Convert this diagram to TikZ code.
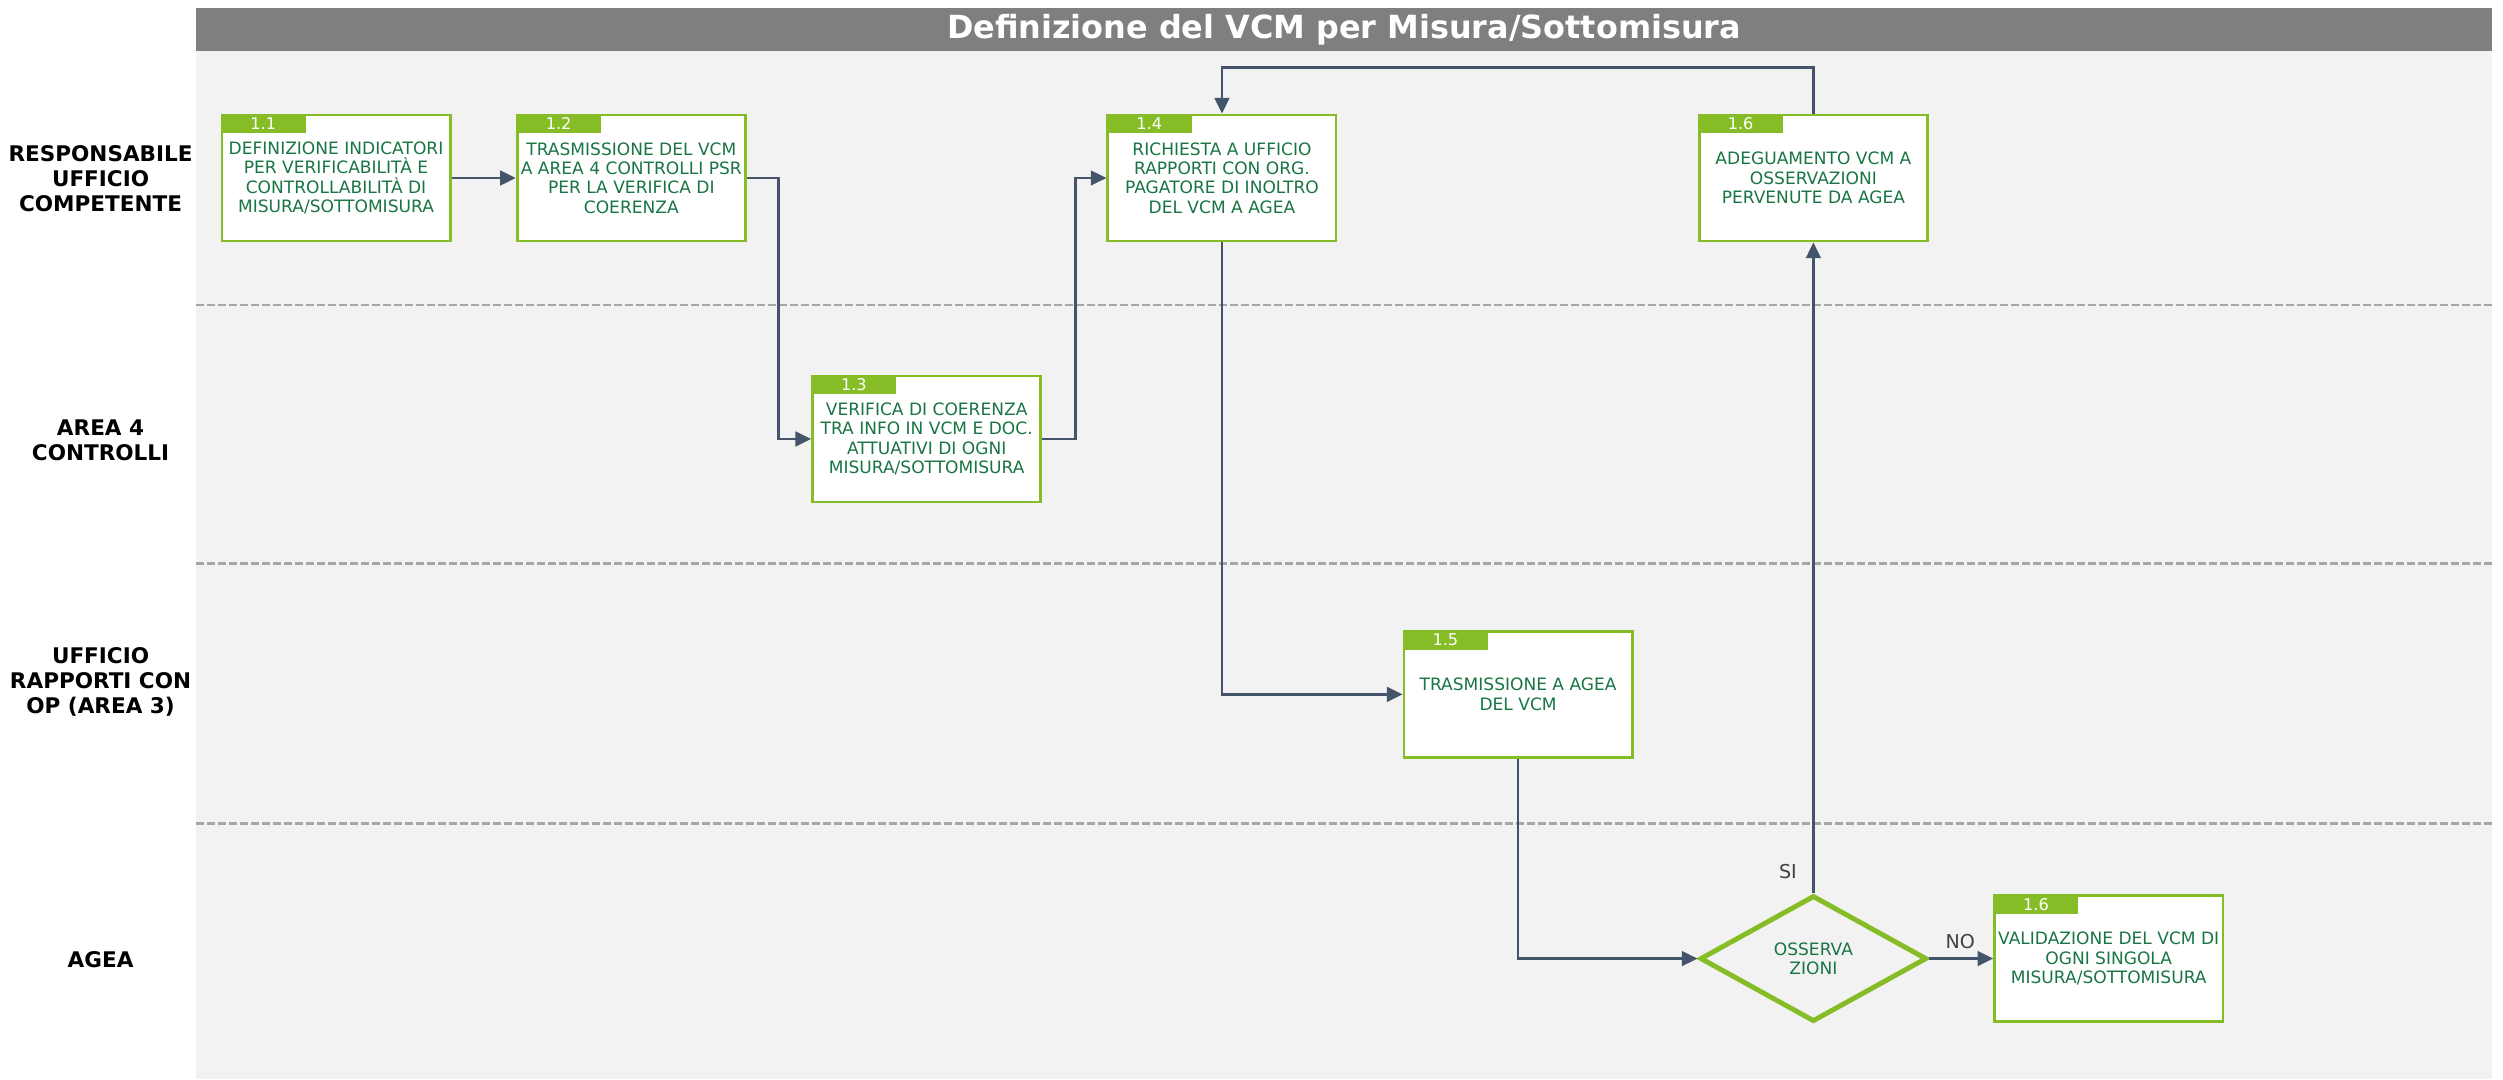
\documentclass[tikz,border=0pt]{standalone}
\usepackage{fontspec}
\setmainfont{DejaVu Sans}
\usetikzlibrary{shapes.geometric,arrows.meta}

\definecolor{bargray}{HTML}{7F7F7F}
\definecolor{lanebg}{HTML}{F2F2F2}
\definecolor{lanedash}{HTML}{A6A6A6}
\definecolor{stepgreen}{HTML}{86BC25}
\definecolor{textgreen}{HTML}{1A7544}
\definecolor{flowline}{HTML}{44546A}
\definecolor{choicetext}{HTML}{404040}

\tikzset{
  stepbox/.style={draw=stepgreen, line width=1.2pt, fill=white, minimum width=35.75mm,
    minimum height=19.75mm, inner sep=0pt, align=center, text=textgreen,
    font=\fontsize{7.6}{8.6}\selectfont},
  steptab/.style={fill=stepgreen, anchor=north west, minimum width=13.25mm,
    minimum height=3mm, inner sep=0pt, text=white, font=\fontsize{7.2}{7.2}\selectfont},
  choice/.style={diamond, draw=stepgreen, line width=2.2pt, minimum width=35.5mm,
    minimum height=19.75mm, inner sep=0pt, align=center, text=textgreen,
    font=\fontsize{7.6}{8.6}\selectfont},
  lanelabel/.style={align=center, font=\fontsize{9.6}{11.2}\selectfont\bfseries},
  choicelabel/.style={text=choicetext, font=\fontsize{8.5}{8.5}\selectfont},
  flow/.style={draw=flowline, line width=1.2pt, -{Triangle[length=7pt,width=6.5pt]}},
  lanesep/.style={draw=lanedash, line width=1.1pt, dash pattern=on 3.6pt off 1.3pt}
}

\begin{document}
\begin{tikzpicture}[x=0.25mm, y=-0.25mm]

\useasboundingbox (0,0) rectangle (1568,676);

% background and title bar
\fill[lanebg] (123,32) rectangle (1561,676);
\fill[bargray] (123,5) rectangle (1561,32);
\node[text=white, font=\fontsize{14.2}{14.2}\selectfont\bfseries] (Title) at (842,18.5) {Definizione del VCM per Misura/Sottomisura};

% lanes
\draw[lanesep] (123,191) -- (1561,191);
\draw[lanesep] (123,353) -- (1561,353);
\draw[lanesep] (123,516) -- (1561,516);

\node[lanelabel] (L1) at (63,112) {RESPONSABILE\\UFFICIO\\COMPETENTE};
\node[lanelabel] (L2) at (63,276) {AREA 4\\CONTROLLI};
\node[lanelabel] (L3) at (63,427) {UFFICIO\\RAPPORTI CON\\OP (AREA 3)};
\node[lanelabel] (L4) at (63,601) {AGEA};

% steps
\node[stepbox] (P11) at (210.5,111.5) {DEFINIZIONE INDICATORI\\PER VERIFICABILIT\`A E\\CONTROLLABILIT\`A DI\\MISURA/SOTTOMISURA};
\node[stepbox] (P12) at (395.5,111.5) {TRASMISSIONE DEL VCM\\A AREA 4 CONTROLLI PSR\\PER LA VERIFICA DI\\COERENZA};
\node[stepbox] (P13) at (580.5,275) {VERIFICA DI COERENZA\\TRA INFO IN VCM E DOC.\\ATTUATIVI DI OGNI\\MISURA/SOTTOMISURA};
\node[stepbox] (P14) at (765.5,111.5) {RICHIESTA A UFFICIO\\RAPPORTI CON ORG.\\PAGATORE DI INOLTRO\\DEL VCM A AGEA};
\node[stepbox] (P16a) at (1136,111.5) {ADEGUAMENTO VCM A\\OSSERVAZIONI\\PERVENUTE DA AGEA};
\node[stepbox] (P15) at (951,435) {TRASMISSIONE A AGEA\\DEL VCM};
\node[choice] (Dec) at (1136,600.5) {OSSERVA\\ZIONI};
\node[stepbox] (P16b) at (1321,600.5) {VALIDAZIONE DEL VCM DI\\OGNI SINGOLA\\MISURA/SOTTOMISURA};

% number tabs
\node[steptab] (T11) at (P11.north west) {1.1};
\node[steptab] (T12) at (P12.north west) {1.2};
\node[steptab] (T13) at (P13.north west) {1.3};
\node[steptab] (T14) at (P14.north west) {1.4};
\node[steptab] (T16a) at (P16a.north west) {1.6};
\node[steptab] (T15) at (P15.north west) {1.5};
\node[steptab] (T16b) at (P16b.north west) {1.6};

% arrows
\draw[flow] (P11) -- (P12);
\draw[flow] (P12.east) -- ++(20,0) |- (P13.west);
\draw[flow] (P13.east) -- ++(21,0) |- (P14.west);
\draw[flow] (P14.south) |- (P15.west);
\draw[flow] (P15.south) |- (Dec.west);
\draw[flow] (Dec.east) -- (Dec.east -| P16b.west);
\draw[flow] (Dec.north) -- (P16a.south);
\draw[flow] (P16a.north) -- ++(0,-29) -| (P14.north);

\node[choicelabel] (Si) at (1120,546) {SI};
\node[choicelabel] (No) at (1228,590) {NO};

\end{tikzpicture}
\end{document}
